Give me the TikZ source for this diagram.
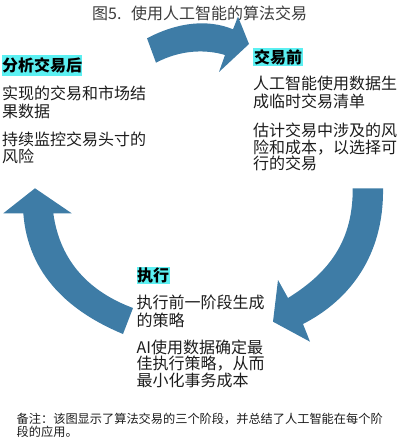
\documentclass[tikz,border=0pt]{standalone}
\usepackage{fontspec}
\setmainfont{Noto Sans CJK SC}
\definecolor{arrowblue}{RGB}{62,124,166}
\definecolor{hlcyan}{RGB}{92,240,242}
\definecolor{textc}{RGB}{28,28,28}
\definecolor{titlec}{RGB}{60,60,60}
\tikzset{
  txt/.style={anchor=base west, inner sep=0pt, text=textc, font=\fontsize{16}{18}\selectfont},
  note/.style={anchor=base west, inner sep=0pt, text=textc, font=\fontsize{12.2}{14}\selectfont},
  hl/.style={fill=hlcyan, inner sep=0pt, text=black, font=\fontsize{16}{18}\selectfont\bfseries},
  bigarrow/.style={fill=arrowblue, draw=none}
}
\begin{document}
\begin{tikzpicture}[x=1pt,y=-1pt]
\useasboundingbox (0,0) rectangle (400,438);
% title
\node[anchor=base west, inner sep=0pt, text=titlec, font=\fontsize{16}{18}\selectfont] (t1) at (92,20) {图5.};
\node[anchor=base west, inner sep=0pt, text=titlec, font=\fontsize{16}{18}\selectfont] (t2) at (131,20) {使用人工智能的算法交易};
% arrows
\path[bigarrow] (147,38.3) .. controls (178,22) and (208,19) .. (233,29.3)
  -- (238,16.7) -- (249,44) -- (219,72) -- (225,55)
  .. controls (205,49) and (180,50) .. (156,62.7) -- cycle;
\path[bigarrow] (352.7,188.3) -- (383,188.3)
  .. controls (384,255) and (350,300) .. (303,324)
  -- (310,341.7) -- (273,321.7) -- (278,280) -- (288,298)
  .. controls (330,272) and (353,240) .. (352.7,188.3) -- cycle;
\path[bigarrow] (35,188.3) -- (71.7,213.3) -- (53.3,213.3)
  .. controls (60,262) and (90,292) .. (133,308)
  -- (123,334)
  .. controls (70,312) and (28,275) .. (23.3,213.3)
  -- (3.3,213.3) -- cycle;
% headers
\node[hl, minimum width=80pt, minimum height=21pt] (h1) at (42,65.5) {分析交易后};
\node[hl, minimum width=50pt, minimum height=18pt] (h2) at (278,57) {交易前};
\node[hl, minimum width=33pt, minimum height=17pt] (h3) at (153,275) {执行};
% left column
\node[txt] (l1) at (2,99.5) {实现的交易和市场结};
\node[txt] (l2) at (2,117.5) {果数据};
\node[txt] (l3) at (2,146) {持续监控交易头寸的};
\node[txt] (l4) at (2,163) {风险};
% right column
\node[txt] (r1) at (253,89.6) {人工智能使用数据生};
\node[txt] (r2) at (253,107.6) {成临时交易清单};
\node[txt] (r3) at (253,136.1) {估计交易中涉及的风};
\node[txt] (r4) at (253,153.1) {险和成本，以选择可};
\node[txt] (r5) at (253,169.6) {行的交易};
% bottom column
\node[txt] (b1) at (136.5,308) {执行前一阶段生成};
\node[txt] (b2) at (136.5,326) {的策略};
\node[txt] (b3) at (136.5,353) {AI使用数据确定最};
\node[txt] (b4) at (136.5,369.5) {佳执行策略，从而};
\node[txt] (b5) at (136.5,386) {最小化事务成本};
% footnote
\node[note] (n1) at (16.5,423.6) {备注：该图显示了算法交易的三个阶段，并总结了人工智能在每个阶};
\node[note] (n2) at (16.5,436.2) {段的应用。};
\end{tikzpicture}
\end{document}
